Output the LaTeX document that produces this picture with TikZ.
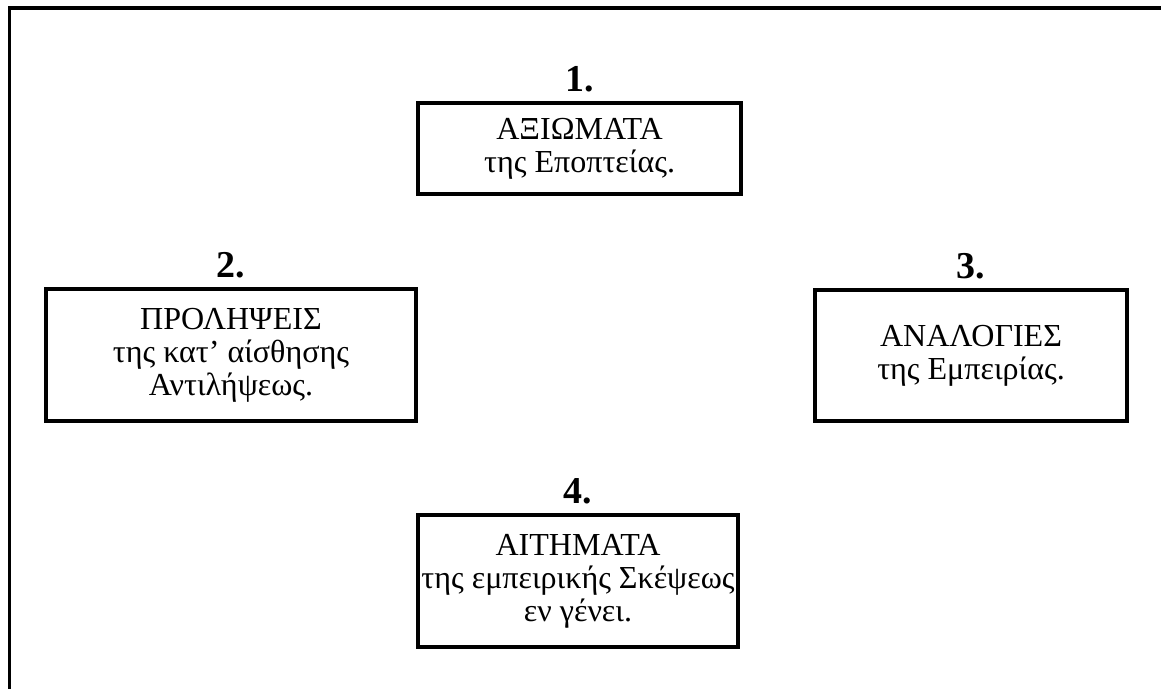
\documentclass[tikz,border=0pt]{standalone}
\usepackage{fontspec}
\setmainfont{Liberation Serif}
\usepackage{tikz}
\usetikzlibrary{positioning}

\begin{document}
\begin{tikzpicture}[line width=2.6pt,outer sep=0pt,
    font=\fontsize{22.8}{23.5}\selectfont,
    rulebox/.style={draw,shape=rectangle,align=center,inner sep=0pt,minimum height=3.3cm},
    rulenum/.style={font=\fontsize{27}{27}\selectfont\bfseries,inner sep=0pt}]
    \useasboundingbox (0,0) rectangle (29.025,-17.225);

    \node (ax) at (14.49,-3.71) [rulebox,minimum width=8.08cm,minimum height=2.28cm] {ΑΞΙΩΜΑΤΑ\\της Εποπτείας.}; %
    \node (pr) at (5.775,-8.875) [rulebox,minimum width=9.25cm] {ΠΡΟΛΗΨΕΙΣ\\της κατ’ αίσθησης\\Αντιλήψεως.}; %
    \node (an) at (24.275,-8.89) [rulebox,minimum width=7.8cm,minimum height=3.28cm] {ΑΝΑΛΟΓΙΕΣ\\της Εμπειρίας.}; %
    \node (ai) at (14.45,-14.525) [rulebox,minimum width=8cm] {ΑΙΤΗΜΑΤΑ\\της εμπειρικής Σκέψεως\\εν γένει.}; %

    %%%% numbers
    \node (ax1) [rulenum,above=0.27cm of ax] {1.}; %
    \node (pr2) [rulenum,above=0.27cm of pr] {2.}; %
    \node (an3) [rulenum,above=0.27cm of an] {3.}; %
    \node (ai4) [rulenum,above=0.27cm of ai] {4.}; %

    %%%% cadre
    \coordinate (fb) at (0.24,-17.225);
    \coordinate (ftl) at (0.24,-0.2);
    \coordinate (fr) at (29.025,-0.2);
    \draw (fb) -- (ftl) -- (fr);
\end{tikzpicture}
\end{document}
